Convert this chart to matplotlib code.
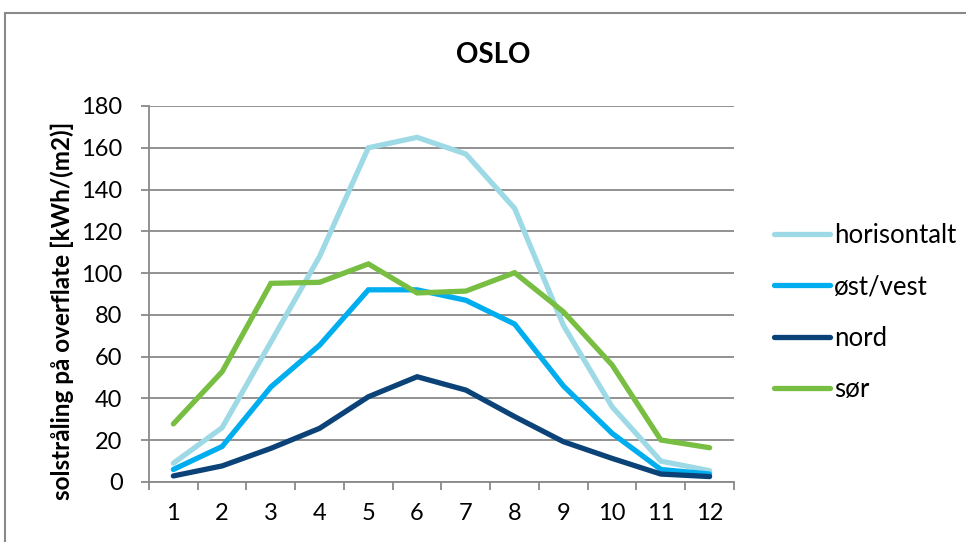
import matplotlib
matplotlib.use("Agg")
import matplotlib.pyplot as plt
from matplotlib.ticker import FixedLocator, NullFormatter

plt.rcParams['font.family'] = ['Lato', 'DejaVu Sans']

months = [1, 2, 3, 4, 5, 6, 7, 8, 9, 10, 11, 12]
month_labels = [str(m) for m in months]

horisontalt = [9, 26, 67, 108, 160, 165, 157, 131, 75, 36, 10, 5.4]
ost_vest = [6, 17, 45.5, 65.5, 92, 92, 87, 75.6, 46, 23.3, 6, 3.8]
nord = [2.9, 7.7, 16.1, 25.7, 40.8, 50.4, 44, 31.3, 19.3, 11.3, 3.8, 2.6]
sor = [27.8, 52.8, 95.1, 95.6, 104.4, 90.5, 91.4, 100.2, 81.5, 56, 20.1, 16.4]

series = [
    ("horisontalt", horisontalt, "#9ED9E6"),
    ("øst/vest", ost_vest, "#00AEEF"),
    ("nord", nord, "#0B4378"),
    ("sør", sor, "#78BE42"),
]

y_ticks = [0, 20, 40, 60, 80, 100, 120, 140, 160, 180]

GRID = "#898989"

fig = plt.figure(figsize=(9.66, 5.42), dpi=100)
ax = fig.add_axes([149 / 966, 1 - 482 / 542, (734 - 149) / 966, (482 - 106) / 542])

for name, vals, color in series:
    ax.plot(months, vals, color=color, linewidth=3.8, label=name,
            solid_capstyle='round', solid_joinstyle='miter', zorder=3)

ax.set_xlim(0.5, 12.5)
ax.set_ylim(0, 180)

# y axis
ax.set_yticks(y_ticks)
ax.set_yticklabels([str(v) for v in y_ticks])
ax.yaxis.grid(True, color=GRID, linewidth=1.3)
ax.set_axisbelow(True)

# x axis: tick marks on category boundaries, labels in the middle
ax.xaxis.set_major_locator(FixedLocator([m + 0.5 for m in [0] + months]))
ax.xaxis.set_major_formatter(NullFormatter())
ax.xaxis.set_minor_locator(FixedLocator(months))
ax.set_xticklabels(month_labels, minor=True)
ax.tick_params(axis='x', which='major', length=6, width=1.3, color=GRID, direction='out')
ax.tick_params(axis='x', which='minor', length=0, pad=15, labelsize=17)
ax.tick_params(axis='y', length=6, width=1.3, color=GRID, direction='out', pad=13, labelsize=17)

for side in ['top', 'right']:
    ax.spines[side].set_visible(False)
for side in ['left', 'bottom']:
    ax.spines[side].set_color(GRID)
    ax.spines[side].set_linewidth(1.3)

ax.set_ylabel("solstråling på overflate [kWh/(m2)]", fontsize=17.5, fontweight='bold')
# label sits a bit below the axes centre in the original
ax.yaxis.set_label_coords(-0.128, 0.455)

fig.text(493 / 966, 1 - 55 / 542, "OSLO", ha='center', va='center', fontsize=20, fontweight='bold')

leg = ax.legend(loc='center left', bbox_to_anchor=(1.05, 0.451), frameon=False, fontsize=18.5,
                handlelength=2.2, handletextpad=0.15, labelspacing=1.03, borderaxespad=0)

# outer chart border
fig.add_artist(plt.Rectangle((5 / 966, -0.1), 1.2, 1 - 13 / 542 + 0.1, transform=fig.transFigure,
                             fill=False, edgecolor=GRID, linewidth=1.5))

fig.savefig("out.png", dpi=100, facecolor='white')
